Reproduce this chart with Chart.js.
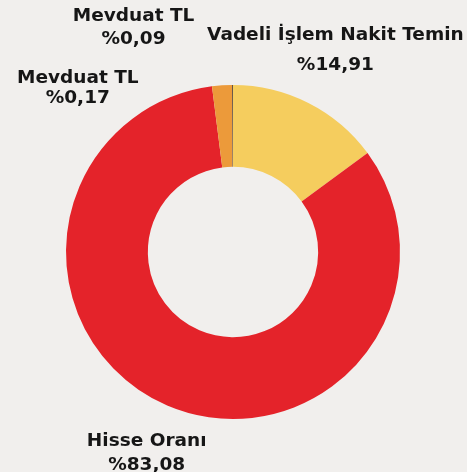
<!DOCTYPE html>
<html>
<head>
<meta charset="utf-8">
<script src="https://cdn.jsdelivr.net/npm/chart.js@4.4.0/dist/chart.umd.min.js"></script>
<style>
  html, body { margin: 0; padding: 0; background: #f1efed; }
  canvas { display: block; }
</style>
</head>
<body>
<canvas id="myChart" width="467" height="472"></canvas>
<script>
// slice values (clockwise from top)
const categories = ['Vadeli İşlem Nakit Temin', 'Hisse Oranı', 'Mevduat TL', 'Mevduat TL']
const values = [14.91, 83.08, 1.92, 0.09]
const valueLabels = ['%14,91', '%83,08', '%0,17', '%0,09']
const colors = ['#f5cd5e', '#e4232a', '#ec9a3a', '#5b4a3c']

// label placement: distance from centre along slice mid angle, then a nudge
const labelDist = [229, 219, 170, 170]
const labelNudge = [[-1, 3], [0, 0], [-144, 6], [-99, -54]]
const labelGap = [30, 24, 20, 23]

const outsideLabels = {
  id: 'outsideLabels',
  afterDraw(chart) {
    const ctx = chart.ctx
    const meta = chart.getDatasetMeta(0)
    ctx.save()
    ctx.fillStyle = '#161616'
    ctx.textAlign = 'center'
    ctx.textBaseline = 'middle'
    ctx.font = 'bold 18.5px "DejaVu Sans"'
    meta.data.forEach((arc, i) => {
      const mid = (arc.startAngle + arc.endAngle) / 2
      const x = arc.x + Math.cos(mid) * labelDist[i] + labelNudge[i][0]
      const y = arc.y + Math.sin(mid) * labelDist[i] + labelNudge[i][1]
      ctx.fillText(categories[i], x, y - labelGap[i] / 2)
      ctx.fillText(valueLabels[i], x, y + labelGap[i] / 2)
    })
    ctx.restore()
  }
}

const data = {
  labels: categories,
  datasets: [{
    data: values,
    backgroundColor: colors,
    borderWidth: 0
  }]
}

const config = {
  type: 'doughnut',
  data: data,
  options: {
    responsive: false,
    animation: false,
    cutout: '51%',
    layout: { padding: { left: 66, right: 67, top: 85, bottom: 53 } },
    plugins: {
      legend: { display: false },
      tooltip: { enabled: false }
    }
  },
  plugins: [outsideLabels]
}

const myChart = new Chart(document.getElementById('myChart'), config)
</script>
</body>
</html>
